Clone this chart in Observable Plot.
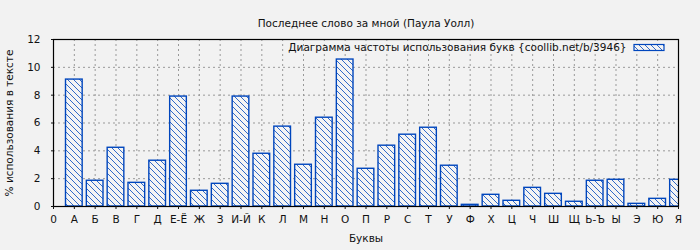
<!DOCTYPE html>
<html>
<head>
<meta charset="utf-8">
<script src="https://cdn.jsdelivr.net/npm/d3@7"></script>
<script src="https://cdn.jsdelivr.net/npm/@observablehq/plot@0.6"></script>
<style>
  html, body { margin: 0; padding: 0; background: #f2f2f2; }
  #chart svg { display: block; }
</style>
</head>
<body>
<div id="chart"></div>
<script>
const title = "Последнее слово за мной (Паула Уолл)";
const xLabel = "Буквы";
const yLabel = "% использования в тексте";
const legendLabel = "Диаграмма частоты использования букв {coollib.net/b/3946}";
const letters = ["А","Б","В","Г","Д","Е-Ё","Ж","З","И-Й","К","Л","М","Н","О","П","Р","С","Т","У","Ф","Х","Ц","Ч","Ш","Щ","Ь-Ъ","Ы","Э","Ю","Я"];
const values = [9.12,1.85,4.22,1.70,3.29,7.90,1.13,1.63,7.90,3.79,5.74,3.00,6.38,10.56,2.71,4.37,5.16,5.66,2.93,0.12,0.84,0.41,1.34,0.91,0.34,1.85,1.92,0.19,0.55,1.92];
const xTickLabels = ["0", ...letters];
const yTicks = [0, 2, 4, 6, 8, 10, 12];

const data = letters.map((l, i) => ({letter: l, pos: i + 1, value: values[i]}));

const blue = "#0046bd";
const font = "DejaVu Sans, sans-serif";

const plot = Plot.plot({
  width: 700,
  height: 250,
  marginLeft: 53,
  marginRight: 22,
  marginTop: 39,
  marginBottom: 44,
  style: {background: "#f2f2f2", fontFamily: font, fontSize: "10.5px", color: "#111"},
  x: {domain: [0, 30]},
  y: {domain: [0, 12]},
  marks: [
    Plot.gridX(d3.range(0, 31), {stroke: "#999", strokeOpacity: 1, strokeDasharray: "2,3"}),
    Plot.gridY(yTicks, {stroke: "#999", strokeOpacity: 1, strokeDasharray: "2,3"}),
    Plot.rectY(data, {x1: d => d.pos - 0.4, x2: d => d.pos + 0.4, y1: 0, y2: "value", fill: "url(#hatch)", stroke: blue, strokeWidth: 1.4, clip: true}),
    Plot.frame({stroke: "#000", strokeWidth: 1.2}),
    Plot.axisX(d3.range(0, 31), {tickSize: 3, tickPadding: 6, tickFormat: i => xTickLabels[i], label: null, fontSize: 10.5}),
    Plot.axisY(yTicks, {tickSize: 2, tickPadding: 11, label: null, fontSize: 10.5}),
    Plot.text([title], {frameAnchor: "top", dy: -20, fontSize: 10.5}),
    Plot.text([xLabel], {frameAnchor: "bottom", dy: 35, fontSize: 10.5}),
    Plot.text([yLabel], {frameAnchor: "left", dx: -44, rotate: -90, textAnchor: "middle", fontSize: 10.5}),
    Plot.text([legendLabel], {frameAnchor: "top-right", dx: -52, dy: 8, lineAnchor: "middle", textAnchor: "end", fontSize: 10.5})
  ]
});

// hatch pattern definition
const svg = d3.select(plot);
const defs = svg.insert("defs", ":first-child");
const pat = defs.append("pattern")
  .attr("id", "hatch")
  .attr("patternUnits", "userSpaceOnUse")
  .attr("width", 6).attr("height", 6);
pat.append("rect").attr("width", 6).attr("height", 6).attr("fill", "#f4f4f4");
pat.append("path")
  .attr("d", "M0,0L6,6M-1,5L1,7M5,-1L7,1")
  .attr("stroke", blue).attr("stroke-width", 0.8);

// legend swatch (top-right inside the frame)
svg.append("rect")
  .attr("x", 700 - 22 - 44).attr("y", 39 + 5.5)
  .attr("width", 30).attr("height", 6)
  .attr("fill", "url(#hatch)").attr("stroke", blue).attr("stroke-width", 1.2);

document.getElementById("chart").appendChild(plot);
</script>
</body>
</html>
